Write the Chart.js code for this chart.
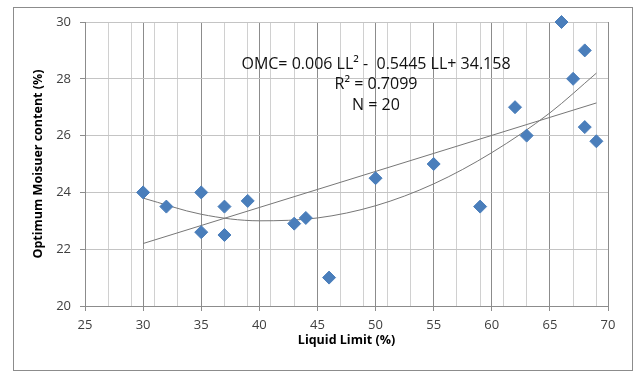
<!DOCTYPE html>
<html lang="en">
<head>
  <meta charset="UTF-8" />
  <title>Optimum Moisture Content vs Liquid Limit</title>
  <script src="https://cdn.jsdelivr.net/npm/chart.js"></script>
  <style>
    html, body {
      margin: 0;
      padding: 0;
      background: #fff;
    }
    canvas {
      display: block;
    }
  </style>
</head>
<body>
  <canvas id="omcChart" width="635" height="372"></canvas>

  <script>
    // Measured points
    const liquidLimit = [30, 32, 35, 35, 37, 37, 39, 43, 44, 46, 50, 55, 59, 62, 63, 66, 67, 68, 68, 69];
    const omcValues = [24, 23.5, 24, 22.6, 23.5, 22.5, 23.7, 22.9, 23.1, 21, 24.5, 25, 23.5, 27, 26, 30, 28, 29, 26.3, 25.8];

    // Trend lines
    const polyTrendX = [30, 35, 40, 45, 50, 55, 60, 65, 69];
    const polyTrendY = [23.8, 23.23, 23.0, 23.1, 23.53, 24.3, 25.4, 26.8, 28.2];
    const linTrendX = [30, 69];
    const linTrendY = [22.2, 27.15];

    // Axis ticks
    const xGridValues = [25, 27, 29, 30, 31, 33, 35, 37, 39, 40, 41, 43, 45, 47, 49, 50, 51, 53, 55, 57, 59, 60, 61, 63, 65, 67, 69, 70];
    const xLabelValues = [25, 30, 35, 40, 45, 50, 55, 60, 65, 70];
    const yTickValues = [20, 22, 24, 26, 28, 30];

    const equationLines = ['OMC= 0.006 LL² -  0.5445 LL+ 34.158', 'R² = 0.7099', 'N = 20'];

    const toPoints = (xs, ys) => xs.map((x, i) => ({ x: x, y: ys[i] }));
    const isMajor = v => xLabelValues.includes(v);

    // outer frame + equation text
    const decorations = {
      id: 'decorations',
      beforeDraw(chart) {
        const ctx = chart.ctx;
        ctx.save();
        ctx.fillStyle = '#fff';
        ctx.fillRect(0, 0, chart.width, chart.height);
        ctx.strokeStyle = '#8c8c8c';
        ctx.lineWidth = 1;
        ctx.strokeRect(13.5, 7.5, 619, 363);
        ctx.restore();
      },
      afterDraw(chart) {
        const ctx = chart.ctx;
        ctx.save();
        ctx.font = '16px "Open Sans"';
        ctx.fillStyle = '#111';
        ctx.textAlign = 'center';
        ctx.textBaseline = 'middle';
        const ys = [64, 84.5, 105];
        equationLines.forEach((t, i) => ctx.fillText(t, 376, ys[i]));
        ctx.restore();
      }
    };

    const tickFont = { family: 'Open Sans', size: 13 };
    const titleFont = { family: 'Open Sans', size: 12.5, weight: 'bold' };

    new Chart(document.getElementById('omcChart'), {
      type: 'scatter',
      data: {
        datasets: [
          {
            label: 'OMC',
            data: toPoints(liquidLimit, omcValues),
            pointStyle: 'rectRot',
            pointRadius: 6.5,
            backgroundColor: '#4A7EBB',
            borderColor: '#4A7EBB',
            borderWidth: 1,
            clip: false
          },
          {
            label: 'Poly. trend',
            data: toPoints(polyTrendX, polyTrendY),
            showLine: true,
            pointRadius: 0,
            borderColor: '#777',
            borderWidth: 1,
            cubicInterpolationMode: 'monotone'
          },
          {
            label: 'Linear trend',
            data: toPoints(linTrendX, linTrendY),
            showLine: true,
            pointRadius: 0,
            borderColor: '#777',
            borderWidth: 1
          }
        ]
      },
      options: {
        responsive: false,
        animation: false,
        layout: { padding: { left: 31, right: 27, top: 22, bottom: 24 } },
        plugins: {
          legend: { display: false },
          tooltip: { enabled: false }
        },
        scales: {
          x: {
            type: 'linear',
            min: 25,
            max: 70,
            afterBuildTicks: axis => { axis.ticks = xGridValues.map(v => ({ value: v })); },
            afterFit: axis => { axis.height = 42; },
            ticks: {
              autoSkip: false,
              maxRotation: 0,
              padding: 6,
              color: '#404040',
              font: tickFont,
              callback: v => isMajor(v) ? v : ''
            },
            grid: {
              color: ctx => isMajor(ctx.tick.value) ? '#8c8c8c' : '#d0d0d0',
              tickColor: ctx => isMajor(ctx.tick.value) ? '#8c8c8c' : 'rgba(0,0,0,0)',
              tickLength: 5
            },
            border: { color: '#8c8c8c' },
            title: {
              display: true,
              text: 'Liquid Limit (%)',
              color: '#000',
              font: titleFont,
              padding: 0
            }
          },
          y: {
            min: 20,
            max: 30,
            afterBuildTicks: axis => { axis.ticks = yTickValues.map(v => ({ value: v })); },
            afterFit: axis => { axis.width = 54; },
            ticks: {
              padding: 9,
              color: '#404040',
              font: tickFont
            },
            grid: {
              color: '#c4c4c4',
              tickColor: '#8c8c8c',
              tickLength: 5
            },
            border: { color: '#8c8c8c' },
            title: {
              display: true,
              text: 'Optimum Moisuer content (%)',
              color: '#000',
              font: titleFont,
              padding: 0
            }
          }
        }
      },
      plugins: [decorations]
    });
  </script>
</body>
</html>
